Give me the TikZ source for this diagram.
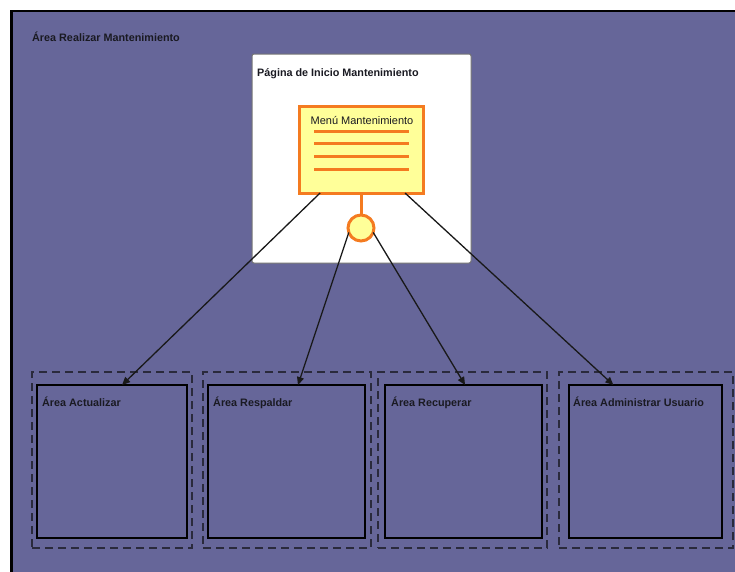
\documentclass[tikz,border=0pt]{standalone}
\usepackage{fontspec}
\setmainfont{Liberation Sans}
\usetikzlibrary{calc,arrows.meta}
\definecolor{areafill}{HTML}{666699}
\definecolor{menuorange}{HTML}{F47B20}
\definecolor{menuyellow}{HTML}{FFFF99}
\definecolor{dashcol}{HTML}{2A2A3C}
\definecolor{textdark}{HTML}{1A1A22}
\tikzset{
  areabox/.style={draw=black, line width=2pt, inner sep=0pt, outer sep=0pt},
  dashbox/.style={draw=dashcol, line width=1.7pt, dash pattern=on 8pt off 5pt, inner sep=0pt, outer sep=0pt},
  pagebox/.style={draw=black!55, fill=white, line width=1pt, rounded corners=2pt, inner sep=0pt, outer sep=0pt},
  menubox/.style={draw=menuorange, fill=menuyellow, line width=3pt, inner sep=0pt, outer sep=0pt},
  menuline/.style={draw=menuorange, line width=3pt},
  ifacecirc/.style={circle, draw=menuorange, fill=menuyellow, line width=3pt, minimum size=26pt, inner sep=0pt, outer sep=0pt},
  boldlabel/.style={font=\fontsize{10.8pt}{12pt}\selectfont\bfseries, text=textdark, inner sep=0pt, anchor=base west},
  menulabel/.style={font=\fontsize{11pt}{12pt}\selectfont, text=textdark, inner sep=0pt, anchor=base},
  conn/.style={draw=black!90, line width=1.3pt, -{Triangle[length=8pt,width=7pt]}},
}
\begin{document}
\begin{tikzpicture}[x=1pt,y=-1pt]
\useasboundingbox (0,0) rectangle (735,571);
\clip (0,0) rectangle (735,571);
\fill[white] (0,0) rectangle (735,571);
% outer area
\node[draw=black, fill=areafill, line width=2.5pt, inner sep=0pt, outer sep=0pt,
      minimum width=740pt, minimum height=575pt, anchor=north west] (outer) at (11.5,11) {};
\node[boldlabel] (outerlbl) at (32,41) {Área Realizar Mantenimiento};
% page
\node[pagebox, minimum width=219pt, minimum height=209pt, anchor=north west] (page) at (252,54) {};
\node[boldlabel] (pagelbl) at (257,76) {Página de Inicio Mantenimiento};
% menu
\node[menubox, minimum width=124pt, minimum height=87pt, anchor=north west] (menu) at (299,106) {};
\node[menulabel] (menulbl) at (362,124) {Menú Mantenimiento};
\foreach \yy in {131,143,156,169} {
  \draw[menuline] ($(menu.north west)+(15,\yy-106)$) -- ($(menu.north east)+(-14,\yy-106)$);
}
\node[ifacecirc] (circ) at (361,228) {};
\draw[menuline] (menu.south -| circ) -- (circ.north);
% dashed containers
\node[dashbox, minimum width=160pt, minimum height=176pt] (d1) at (112,460) {};
\node[dashbox, minimum width=168pt, minimum height=176pt] (d2) at (287,460) {};
\node[dashbox, minimum width=169pt, minimum height=176pt] (d3) at (462.5,460) {};
\node[dashbox, minimum width=174pt, minimum height=176pt] (d4) at (646,460) {};
% areas
\node[areabox, minimum width=150pt, minimum height=153pt] (a1) at (112,461.5) {};
\node[areabox, minimum width=157pt, minimum height=153pt] (a2) at (286.5,461.5) {};
\node[areabox, minimum width=157pt, minimum height=153pt] (a3) at (463.5,461.5) {};
\node[areabox, minimum width=153pt, minimum height=153pt] (a4) at (645.5,461.5) {};
\node[boldlabel] (l1) at ([shift={(5,21.5)}]a1.north west) {Área Actualizar};
\node[boldlabel] (l2) at ([shift={(5,21.5)}]a2.north west) {Área Respaldar};
\node[boldlabel] (l3) at ([shift={(6,21.5)}]a3.north west) {Área Recuperar};
\node[boldlabel] (l4) at ([shift={(4,21.5)}]a4.north west) {Área Administrar Usuario};
% connectors
\draw[conn] ($(menu.south west)!0.17!(menu.south east)$) -- ($(a1.north west)!0.567!(a1.north east)$);
\draw[conn] (circ.200) -- ($(a2.north west)!0.573!(a2.north east)$);
\draw[conn] (circ.-20) -- ($(a3.north west)!0.51!(a3.north east)$);
\draw[conn] ($(menu.south west)!0.855!(menu.south east)$) -- ($(a4.north west)!0.29!(a4.north east)$);
\end{tikzpicture}
\end{document}
